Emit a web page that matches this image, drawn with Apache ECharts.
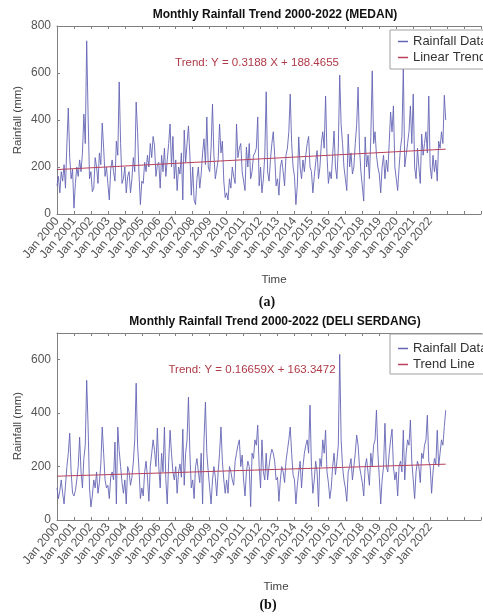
<!DOCTYPE html>
<html><head><meta charset="utf-8">
<script src="https://cdn.jsdelivr.net/npm/echarts@6/dist/echarts.min.js"></script>
<style>html,body{margin:0;padding:0;background:#fff}#c{width:483px;height:616px}</style>
</head><body><div id="c"></div>
<script>
// Tick labels (one per January)
const yearLabels = ['Jan 2000','Jan 2001','Jan 2002','Jan 2003','Jan 2004','Jan 2005','Jan 2006','Jan 2007','Jan 2008','Jan 2009','Jan 2010','Jan 2011','Jan 2012','Jan 2013','Jan 2014','Jan 2015','Jan 2016','Jan 2017','Jan 2018','Jan 2019','Jan 2020','Jan 2021','Jan 2022'];
const medanYTicks = [0, 200, 400, 600, 800];
const deliYTicks = [0, 200, 400, 600];

// Monthly rainfall (mm), Jan 2000 .. Dec 2022 — MEDAN
const medanRain = [
120,160,90,180,140,210,110,300,451,240,150,190,
25,130,200,160,230,180,260,425,300,737,420,150,
180,95,110,240,200,130,260,210,387,280,160,200,
130,60,190,230,180,140,310,250,562,300,130,150,
200,90,160,180,90,150,240,180,476,350,170,40,
140,130,220,180,250,200,300,240,330,290,160,210,
220,110,250,180,280,160,230,300,383,200,330,150,
230,100,200,170,260,60,357,220,300,375,250,80,
200,60,40,150,200,110,170,260,320,210,413,200,
180,280,468,250,150,190,230,383,260,310,140,70,
90,60,150,110,200,160,130,383,240,280,300,180,
140,100,285,200,300,150,180,250,260,280,413,120,
200,90,150,250,520,180,140,230,300,350,250,120,
150,80,200,230,180,120,250,280,350,510,300,200,
160,40,120,328,200,150,230,180,250,300,330,200,
180,90,160,220,270,150,200,300,350,280,502,250,
130,180,150,250,353,200,150,280,591,380,300,200,
150,100,340,200,260,170,200,300,380,540,280,180,
180,55,328,200,250,150,330,609,300,350,250,200,
170,90,200,250,150,230,180,300,434,350,460,200,
150,100,200,280,330,625,200,250,300,350,460,300,
510,200,150,280,200,130,340,250,300,350,260,502,
200,150,250,180,230,140,310,280,350,300,505,400
];
// Monthly rainfall (mm), Jan 2000 .. Dec 2022 — DELI SERDANG
const deliRain = [
120,80,110,150,100,60,130,200,250,325,180,100,
90,110,150,200,310,180,120,230,280,523,350,120,
49,90,150,120,180,100,140,210,348,250,150,120,
130,80,160,180,150,292,60,348,260,200,140,100,
150,60,200,180,130,160,217,300,512,280,190,80,
120,90,180,220,160,70,200,250,300,260,200,344,
200,120,250,180,348,150,60,220,336,250,180,150,
200,100,180,210,160,340,130,250,300,460,250,120,
150,80,200,230,180,140,250,60,300,441,250,180,
120,60,150,200,160,90,180,250,348,220,150,100,
150,100,200,180,150,130,220,250,280,300,200,243,
150,90,180,220,200,50,250,230,300,280,355,200,
120,300,180,150,250,150,200,240,265,250,220,150,
160,70,150,200,180,140,220,260,300,348,250,170,
150,60,130,180,220,120,200,250,280,300,250,430,
200,100,150,220,180,50,230,200,300,250,336,180,
140,80,120,200,250,170,220,280,620,300,200,150,
120,70,180,200,230,150,200,250,318,280,200,170,
140,90,200,230,180,130,250,200,280,300,411,250,
160,60,150,200,362,200,180,250,300,340,200,150,
180,90,200,220,180,336,150,250,300,280,374,220,
150,80,180,220,200,140,250,230,280,300,392,220,
200,100,180,230,210,336,200,250,300,280,350,411
];
// Fitted trend values at first and last month
const medanTrend = [189, 276];
const deliTrend = [164, 209];

const FONT = '"Liberation Sans", Arial, sans-serif';
const dataColor = '#6464b4';
const trendColor = '#b8405a';
const axisColor = '#808080';
const lastIdx = medanRain.length - 1;

function xAxes(gi) {
  return [
    { gridIndex: gi, type: 'value', min: 0, max: 300, interval: 12,
      axisLine: { show: true, lineStyle: { color: axisColor } },
      axisTick: { show: true, inside: true, length: 3, lineStyle: { color: axisColor } },
      axisLabel: { rotate: 50, fontSize: 12, color: '#555', margin: 5, fontFamily: FONT,
        formatter: v => yearLabels[v / 12] || '' },
      splitLine: { show: false } },
    { gridIndex: gi, type: 'value', position: 'top', min: 0, max: 300, interval: 12,
      axisLine: { show: true, lineStyle: { color: axisColor } },
      axisTick: { show: true, inside: true, length: 3, lineStyle: { color: axisColor } },
      axisLabel: { show: false }, splitLine: { show: false } }
  ];
}
function yAxis(gi, max, ticks) {
  return { gridIndex: gi, type: 'value', min: 0, max: max, interval: 200,
    axisLine: { show: true, lineStyle: { color: axisColor } },
    axisTick: { show: true, inside: true, length: 3, lineStyle: { color: axisColor } },
    axisLabel: { fontSize: 12, color: '#555', margin: 6, fontFamily: FONT,
      formatter: v => ticks.indexOf(v) >= 0 ? String(v) : '' },
    splitLine: { show: false } };
}
function legend(top, names, pad) {
  return { left: 390, top: top, orient: 'vertical', data: names, selectedMode: false,
    backgroundColor: '#fff', borderColor: '#a0a0a0', borderWidth: 1, borderRadius: 0,
    padding: pad, itemGap: 3, itemWidth: 10, itemHeight: 1.5, icon: 'rect',
    textStyle: { fontSize: 13, color: '#333', fontFamily: FONT } };
}
function txt(x, y, text, font, fill, rot) {
  return { type: 'text', x: x, y: y, rotation: rot || 0, z: 10,
    style: { text: text, font: font, fill: fill, textAlign: 'center', textVerticalAlign: 'middle', verticalAlign: 'middle' } };
}

const chart = echarts.init(document.getElementById('c'), null, { renderer: 'canvas' });
chart.setOption({
  animation: false,
  backgroundColor: '#fff',
  grid: [
    { left: 57, top: 26, width: 437, height: 188 },
    { left: 57, top: 333, width: 437, height: 187 }
  ],
  xAxis: [].concat(xAxes(0), xAxes(1)),
  yAxis: [yAxis(0, 800, medanYTicks), yAxis(1, 700, deliYTicks)],
  legend: [
    legend(30, ['Rainfall Data', 'Linear Trend'], [5, 40, 5, 8]),
    legend(334, ['Rainfall Data', 'Trend Line'], [8, 40, 3, 8])
  ],
  series: [
    { name: 'Rainfall Data', type: 'line', xAxisIndex: 0, yAxisIndex: 0, showSymbol: false,
      lineStyle: { color: dataColor, width: 0.9 }, itemStyle: { color: dataColor },
      data: medanRain.map((v, i) => [i, v]) },
    { name: 'Linear Trend', type: 'line', xAxisIndex: 0, yAxisIndex: 0, showSymbol: false,
      lineStyle: { color: trendColor, width: 1 }, itemStyle: { color: trendColor },
      data: [[0, medanTrend[0]], [lastIdx, medanTrend[1]]] },
    { name: 'Rainfall Data', type: 'line', xAxisIndex: 2, yAxisIndex: 1, showSymbol: false,
      lineStyle: { color: dataColor, width: 0.9 }, itemStyle: { color: dataColor },
      data: deliRain.map((v, i) => [i, v]) },
    { name: 'Trend Line', type: 'line', xAxisIndex: 2, yAxisIndex: 1, showSymbol: false,
      lineStyle: { color: trendColor, width: 1 }, itemStyle: { color: trendColor },
      data: [[0, deliTrend[0]], [lastIdx, deliTrend[1]]] }
  ],
  graphic: [
    txt(275, 15, 'Monthly Rainfall Trend 2000-2022 (MEDAN)', 'bold 12px ' + FONT, '#111'),
    txt(257, 63, 'Trend: Y = 0.3188 X + 188.4655', '11.5px ' + FONT, '#b03a48'),
    txt(18, 120, 'Rainfall (mm)', '11.5px ' + FONT, '#444', Math.PI / 2),
    txt(274, 280, 'Time', '11.5px ' + FONT, '#444'),
    txt(267, 302, '(a)', 'bold 14px "Liberation Serif", serif', '#111'),
    txt(275, 322, 'Monthly Rainfall Trend 2000-2022 (DELI SERDANG)', 'bold 12px ' + FONT, '#111'),
    txt(252, 370, 'Trend: Y = 0.16659X + 163.3472', '11.5px ' + FONT, '#b03a48'),
    txt(18, 426, 'Rainfall (mm)', '11.5px ' + FONT, '#444', Math.PI / 2),
    txt(276, 587, 'Time', '11.5px ' + FONT, '#444'),
    txt(268, 605, '(b)', 'bold 14px "Liberation Serif", serif', '#111')
  ]
});
</script></body></html>
